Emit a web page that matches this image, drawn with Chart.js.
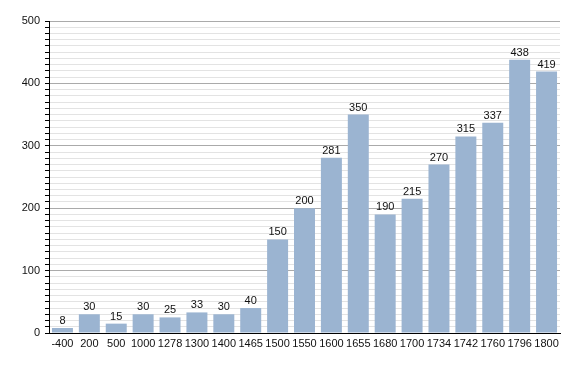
<!DOCTYPE html>
<html>
<head>
<meta charset="utf-8">
<script src="https://cdn.jsdelivr.net/npm/chart.js@4/dist/chart.umd.min.js"></script>
<style>
  html, body { margin: 0; padding: 0; background: #fff; }
  #wrap { width: 588px; height: 373px; }
</style>
</head>
<body>
<div id="wrap"><canvas id="popChart" width="588" height="373"></canvas></div>
<script>
// Population by year

const years = ['-400', '200', '500', '1000', '1278', '1300', '1400', '1465', '1500', '1550',
               '1600', '1655', '1680', '1700', '1734', '1742', '1760', '1796', '1800'];
const population = [8, 30, 15, 30, 25, 33, 30, 40, 150, 200,
                    281, 350, 190, 215, 270, 315, 337, 438, 419];
const yMajorTicks = [0, 100, 200, 300, 400, 500];

const barColor = '#9bb4d1';
const fontName = '"Liberation Sans", Arial, sans-serif';

// value labels above each bar
const valueLabels = {
    id: 'valueLabels',
    afterDatasetsDraw(chart) {
        const ctx = chart.ctx;
        const meta = chart.getDatasetMeta(0);
        ctx.save();
        ctx.font = '11px ' + fontName;
        ctx.fillStyle = '#111';
        ctx.textAlign = 'center';
        ctx.textBaseline = 'alphabetic';
        meta.data.forEach((bar, i) => {
            ctx.fillText(String(population[i]), bar.x, bar.y - 4);
        });
        ctx.restore();
    }
};

new Chart(document.getElementById('popChart'), {
    type: 'bar',
    data: {
        labels: years,
        datasets: [{
            data: population,
            backgroundColor: barColor,
            borderWidth: 0,
            barPercentage: 0.78,
            categoryPercentage: 1.0
        }]
    },
    options: {
        responsive: false,
        animation: false,
        layout: { padding: { left: 0, right: 28, top: 21, bottom: 0 } },
        plugins: {
            legend: { display: false },
            tooltip: { enabled: false }
        },
        scales: {
            x: {
                afterFit: (scale) => { scale.height = 40; },
                grid: { display: false, drawTicks: false },
                border: { display: true, color: '#000', width: 1 },
                ticks: {
                    color: '#111',
                    font: { family: fontName, size: 11 },
                    padding: 4,
                    maxRotation: 0,
                    autoSkip: false
                }
            },
            y: {
                min: 0,
                max: 500,
                afterFit: (scale) => { scale.width = 49; },
                border: { display: true, color: '#000', width: 1 },
                grid: {
                    color: (c) => yMajorTicks.includes(c.tick.value) ? '#aaaaaa' : '#e3e3e3',
                    tickColor: '#000',
                    tickLength: 4,
                    lineWidth: 1
                },
                ticks: {
                    stepSize: 10,
                    autoSkip: false,
                    color: '#111',
                    font: { family: fontName, size: 11 },
                    padding: 5,
                    callback: (v) => yMajorTicks.includes(v) ? String(v) : ''
                }
            }
        }
    },
    plugins: [valueLabels]
});
</script>
</body>
</html>
